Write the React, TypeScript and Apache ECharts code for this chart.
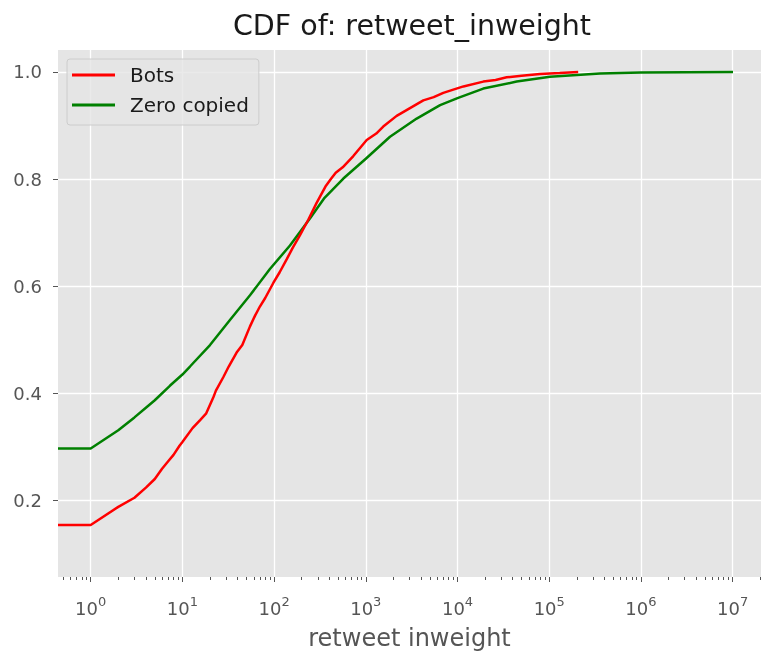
import React, { useEffect, useRef } from "react";
import * as echarts from "echarts";

const botsX = [0.44, 1, 2, 3, 4, 5, 6, 7, 8, 9.3, 10, 12.9, 15.6, 18.1, 21.7, 23.2, 27.9, 32, 39, 45, 54.6, 62, 70, 80, 98, 115, 137, 160, 191, 236, 290, 363, 420, 470, 560, 731, 1023, 1300, 1550, 2170, 3000, 4240, 5500, 7000, 9000, 11600, 19100, 26000, 34400, 50000, 79400, 130000, 207000];
const botsY = [0.154, 0.154, 0.188, 0.205, 0.224, 0.24, 0.259, 0.273, 0.285, 0.302, 0.309, 0.335, 0.35, 0.362, 0.392, 0.405, 0.43, 0.45, 0.476, 0.49, 0.525, 0.545, 0.562, 0.578, 0.606, 0.626, 0.65, 0.672, 0.695, 0.724, 0.755, 0.786, 0.801, 0.812, 0.822, 0.843, 0.873, 0.885, 0.898, 0.918, 0.932, 0.947, 0.953, 0.961, 0.967, 0.973, 0.982, 0.985, 0.99, 0.993, 0.996, 0.998, 1.0];

const zeroX = [0.44, 1, 2, 3, 4, 5, 7.3, 10, 12.1, 20, 33, 54.6, 90, 149, 247, 355, 569, 1000, 1836, 3590, 6460, 10000, 19100, 44200, 102000, 358000, 1000000, 10100000];
const zeroY = [0.297, 0.297, 0.331, 0.355, 0.373, 0.387, 0.414, 0.435, 0.45, 0.49, 0.537, 0.583, 0.632, 0.676, 0.727, 0.765, 0.801, 0.838, 0.879, 0.913, 0.938, 0.951, 0.969, 0.982, 0.991, 0.997, 0.999, 1.0];

const yTicks = [0.2, 0.4, 0.6, 0.8, 1.0];
const xTicks = [1, 10, 100, 1000, 10000, 100000, 1000000, 10000000];
const xMin = 0.44;
const xMax = 20400000;
const yMin = 0.057;
const yMax = 1.041;

const xMinorTicks: number[] = [];
for (let e = -1; e <= 7; e++) {
  for (let m = 2; m <= 9; m++) {
    const v = m * Math.pow(10, e);
    if (v >= xMin && v <= xMax) xMinorTicks.push(v);
  }
}

const FONT = "DejaVu Sans";

export default function App() {
  const ref = useRef<HTMLDivElement>(null);
  useEffect(() => {
    const chart = echarts.init(ref.current!, null, { renderer: "svg" });
    chart.setOption({
      animation: false,
      textStyle: { fontFamily: FONT },
      title: {
        text: "CDF of: retweet_inweight",
        left: 412,
        top: 11,
        padding: 0,
        textAlign: "center",
        textStyle: { fontSize: 28.5, fontWeight: "normal", color: "#1a1a1a", fontFamily: FONT },
      },
      legend: {
        left: 67,
        top: 59,
        orient: "vertical",
        itemWidth: 43,
        itemHeight: 3,
        itemGap: 10,
        padding: [6, 10, 10, 5],
        backgroundColor: "rgba(229,229,229,0.8)",
        borderColor: "#cccccc",
        borderWidth: 1,
        borderRadius: 3,
        textStyle: { fontSize: 20, color: "#1a1a1a", fontFamily: FONT, lineHeight: 20, padding: [0, 0, 0, 10] },
        data: [
          { name: "Bots", icon: "rect" },
          { name: "Zero copied", icon: "rect" },
        ],
      },
      grid: {
        left: 58,
        right: 0,
        top: 50,
        bottom: 79,
        show: true,
        backgroundColor: "#e5e5e5",
        borderWidth: 0,
      },
      xAxis: [
        {
          type: "log",
          logBase: 10,
          min: xMin,
          max: xMax,
          position: "bottom",
          axisLine: { show: false },
          axisTick: { show: true, length: 5, lineStyle: { color: "#555555", width: 1 }, customValues: xTicks },
          axisLabel: {
            customValues: xTicks,
            margin: 18,
            color: "#555555",
            formatter: (v: number) => `{b|10}{s|${Math.round(Math.log10(v))}}`,
            rich: {
              b: { fontSize: 18, lineHeight: 22, color: "#555555", fontFamily: FONT, verticalAlign: "bottom" },
              s: { fontSize: 13, lineHeight: 13, color: "#555555", fontFamily: FONT, verticalAlign: "top" },
            },
          },
          splitLine: { show: true, lineStyle: { color: "#ffffff", width: 1.3 } },
          name: "retweet inweight",
          nameLocation: "middle",
          nameGap: 49,
          nameTextStyle: { fontSize: 24, color: "#555555", fontFamily: FONT },
        },
        {
          type: "log",
          logBase: 10,
          min: xMin,
          max: xMax,
          position: "bottom",
          axisLine: { show: false },
          axisTick: { show: true, length: 3, lineStyle: { color: "#555555", width: 1 }, customValues: xMinorTicks },
          axisLabel: { show: false },
          splitLine: { show: false },
        },
      ],
      yAxis: {
        type: "value",
        min: yMin,
        max: yMax,
        axisLine: { show: false },
        axisTick: { show: true, length: 5, lineStyle: { color: "#555555", width: 1 }, customValues: yTicks },
        axisLabel: {
          customValues: yTicks,
          margin: 16,
          fontSize: 18,
          color: "#555555",
          fontFamily: FONT,
          formatter: (v: number) => v.toFixed(1),
        },
        splitLine: { show: true, lineStyle: { color: "#ffffff", width: 1.3 } },
      },
      series: [
        {
          name: "Bots",
          type: "line",
          xAxisIndex: 0,
          color: "#ff0000",
          showSymbol: false,
          symbol: "none",
          lineStyle: { width: 2.5, color: "#ff0000" },
          data: botsX.map((x, i) => [x, botsY[i]]),
          z: 3,
        },
        {
          name: "Zero copied",
          type: "line",
          xAxisIndex: 0,
          color: "#008000",
          showSymbol: false,
          symbol: "none",
          lineStyle: { width: 2.5, color: "#008000" },
          data: zeroX.map((x, i) => [x, zeroY[i]]),
          z: 2,
        },
      ],
    });
    return () => chart.dispose();
  }, []);
  return <div ref={ref} style={{ position: "fixed", left: 0, top: 0, width: 761, height: 656 }} />;
}
